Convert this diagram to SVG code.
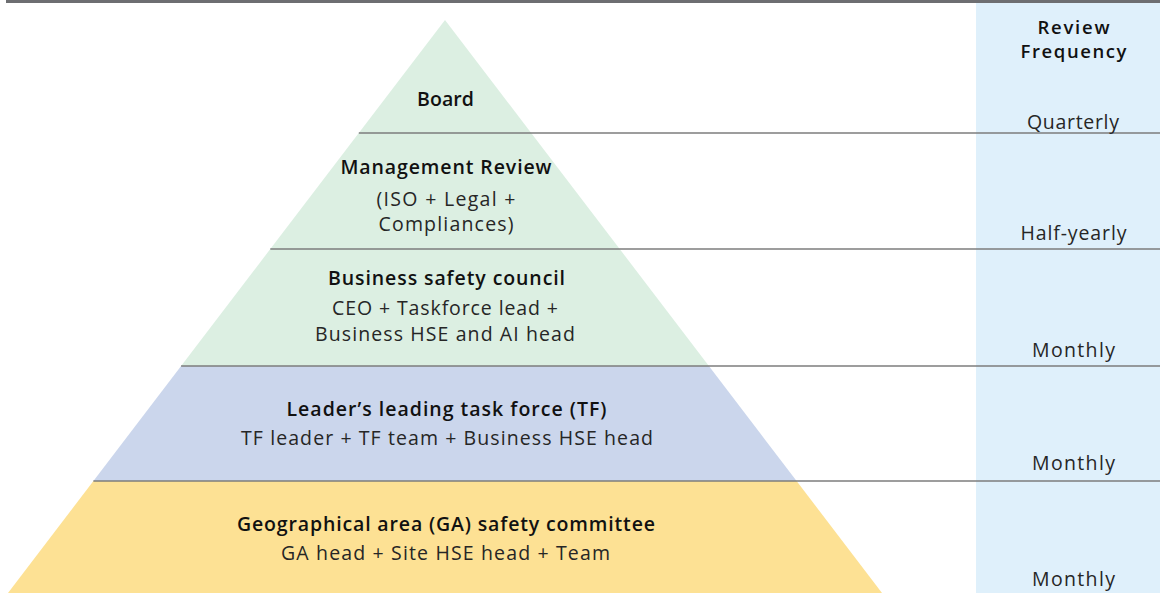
<svg xmlns="http://www.w3.org/2000/svg" width="1160" height="593" viewBox="0 0 1160 593">
<style>
.t{font-family:"Open Sans","Noto Sans","Liberation Sans",sans-serif;font-size:19.5px;text-anchor:middle}
.h{font-size:18.5px}
.b{font-weight:600;fill:#111}
.n{font-weight:400;fill:#262626}
.green{fill:#dcefe2}
.blue{fill:#cbd6ec}
.yellow{fill:#fde194}
.sep{stroke:#7d7d7d;stroke-width:1.5;fill:none}
</style>
<rect x="0" y="0" width="1160" height="593" fill="#ffffff"/>
<rect id="freq-column" x="976" y="3" width="184" height="590" fill="#dff0fb"/>
<rect id="top-bar" x="6" y="0" width="1154" height="3" fill="#6d6e71"/>

<g id="tier-board">
<polygon class="green" points="445,20 531.2,133 358.8,133"/>
<text class="t b" x="445.5" y="106" textLength="57">Board</text>
</g>
<g id="tier-management">
<polygon class="green" points="358.8,133 531.2,133 619.7,249 270.3,249"/>
<text class="t b" x="446" y="174" textLength="211">Management Review</text>
<text class="t n" x="446" y="206" textLength="139">(ISO + Legal +</text>
<text class="t n" x="446" y="231" textLength="135">Compliances)</text>
</g>
<g id="tier-business">
<polygon class="green" points="270.3,249 619.7,249 708.9,366 181.1,366"/>
<text class="t b" x="446.5" y="285" textLength="237">Business safety council</text>
<text class="t n" x="445" y="315" textLength="226">CEO + Taskforce lead +</text>
<text class="t n" x="445" y="341" textLength="260">Business HSE and AI head</text>
</g>
<g id="tier-taskforce">
<polygon class="blue" points="181.1,366 708.9,366 796.6,481 93.4,481"/>
<text class="t b" x="446.5" y="416" textLength="320">Leader’s leading task force (TF)</text>
<text class="t n" x="447" y="445" textLength="412">TF leader + TF team + Business HSE head</text>
</g>
<g id="tier-ga">
<polygon class="yellow" points="93.4,481 796.6,481 882,593 8,593"/>
<text class="t b" x="446" y="531" textLength="418">Geographical area (GA) safety committee</text>
<text class="t n" x="445.5" y="560" textLength="329">GA head + Site HSE head + Team</text>
</g>

<g id="connectors">
<line class="sep" x1="358.8" y1="133" x2="1160" y2="133"/>
<line class="sep" x1="270.3" y1="249" x2="1160" y2="249"/>
<line class="sep" x1="181.1" y1="366" x2="1160" y2="366"/>
<line class="sep" x1="93.4" y1="481" x2="1160" y2="481"/>
</g>

<g id="frequency">
<text class="t h b" x="1073.5" y="34" textLength="72">Review</text>
<text class="t h b" x="1073.5" y="58" textLength="106">Frequency</text>
<text class="t n" x="1073" y="129" textLength="92">Quarterly</text>
<text class="t n" x="1073.5" y="240" textLength="106">Half-yearly</text>
<text class="t n" x="1073.5" y="357" textLength="83">Monthly</text>
<text class="t n" x="1073.5" y="470" textLength="83">Monthly</text>
<text class="t n" x="1073.5" y="586" textLength="83">Monthly</text>
</g>
</svg>
